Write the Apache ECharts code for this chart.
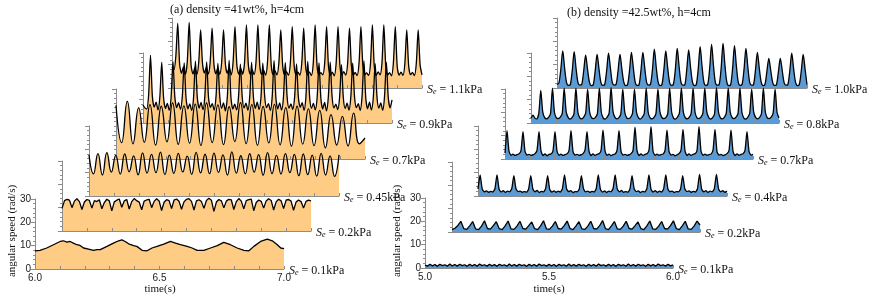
<!DOCTYPE html>
<html><head><meta charset="utf-8">
<script src="https://cdn.jsdelivr.net/npm/echarts@6/dist/echarts.min.js"></script>
<style>html,body{margin:0;padding:0;background:#fff}#c{width:872px;height:299px}</style>
</head><body><div id="c"></div>
<script>
// ---------- texts ----------
const titleA = '(a) density =41wt%, h=4cm';
const titleB = '(b) density =42.5wt%, h=4cm';
const yTitle = 'angular speed (rad/s)';
const xTitle = 'time(s)';
const stressA = ['0.1', '0.2', '0.45', '0.7', '0.9', '1.1'];
const stressB = ['0.1', '0.2', '0.4', '0.7', '0.8', '1.0'];
const xTickLabelsA = [6.0, 6.5, 7.0];
const xTickLabelsB = [5.0, 5.5, 6.0];
const yRange = [0, 30];
const tRangeA = [6.0, 7.0];
const tRangeB = [5.0, 6.0];

// ---------- data, panel (a) ----------
// Se=0.1kPa : [time, speed] pairs
const a1 = [[6.000,7.8],[6.020,8.0],[6.047,9.0],[6.074,10.4],[6.101,11.8],[6.114,12.1],[6.128,11.5],[6.141,11.8],[6.154,11.1],[6.168,10.4],[6.181,10.1],[6.195,9.0],[6.215,8.5],[6.235,8.0],[6.248,8.3],[6.262,8.3],[6.289,9.7],[6.315,11.1],[6.336,12.1],[6.349,12.5],[6.362,11.8],[6.376,10.8],[6.396,10.0],[6.409,9.7],[6.430,8.0],[6.450,7.8],[6.470,9.0],[6.490,9.7],[6.517,10.7],[6.544,11.8],[6.564,11.1],[6.584,10.4],[6.611,9.7],[6.631,9.0],[6.651,8.0],[6.678,8.0],[6.705,9.0],[6.732,10.0],[6.758,11.4],[6.785,10.4],[6.812,9.0],[6.839,8.0],[6.859,7.8],[6.879,9.7],[6.906,11.8],[6.933,12.8],[6.953,12.1],[6.973,10.4],[6.987,9.0],[7.000,8.7]];
// Se=0.2kPa : evenly sampled over 6.0 - 7.0 s
const a2 = [9.7,13.0,13.6,13.2,10.0,12.8,13.8,12.6,9.2,12.4,13.5,13.1,9.8,13.0,12.6,13.4,9.5,12.2,13.6,12.9,8.6,12.5,13.2,13.7,10.2,12.9,13.5,9.4,12.6,13.9,13.0,12.4,9.1,12.8,13.3,13.6,10.0,12.7,13.8,12.9,8.8,12.3,13.4,13.0,9.6,13.2,13.7,12.8,9.3,12.5,13.6,13.9,12.7,9.0,12.9,13.4,12.6,9.7,13.1,14.0,13.2,8.4,12.4,13.5,12.9,9.9,12.8,13.6,13.3,9.2,12.6,13.9,12.8,9.5,13.0,13.4,13.7,8.7,12.2,13.3,12.7,9.8,12.9,13.8,13.1,9.0,12.5,13.6,12.9,9.6,13.2,13.5,12.8,8.9,12.4,13.3,12.6,9.9,12.7,13.2,12.9];
// Se=0.45kPa : peaks / troughs, evenly sampled
const a3 = [17.6,9.5,18.2,9.0,18.6,10.2,17.4,9.4,18.0,10.4,17.2,9.1,18.5,9.8,17.8,10.0,18.8,9.2,17.5,9.7,18.3,10.3,17.1,9.3,18.7,9.9,17.9,9.6,18.4,10.1,17.6,9.0,18.9,9.8,17.3,9.5,18.1,10.2,17.7,8.9,18.6,9.6,17.4,9.4,18.2,10.0,17.8,8.7,18.0,9.2,17.5,8.5,18.3,9.0,17.2,8.4,17.6];
// Se=0.7kPa
const a4 = [23.0,7.0,24.7,6.5,21.9,7.2,23.3,6.0,22.6,7.4,24.0,6.3,22.8,6.8,23.5,5.8,24.0,7.0,23.2,6.2,22.4,7.5,24.1,6.6,23.3,5.9,22.5,6.9,23.4,6.1,22.0,5.5,22.6,6.4,21.5,5.7,20.8,4.8,19.0,6.0,18.3,5.6,19.7,6.5,9.0];
// Se=0.9kPa
const a5 = [7.7,6.5,6.0,12.0,
29.0,11.5,6.8,8.9,5.6,11.2, 26.0,10.8,6.2,8.4,5.4,10.9, 26.3,11.2,6.6,8.7,5.8,11.4, 25.8,10.6,6.1,8.2,5.3,10.8,
26.5,11.0,6.4,8.8,5.7,11.1, 26.2,10.9,6.7,8.3,5.5,11.3, 25.5,11.3,6.3,8.6,5.2,10.7, 26.8,10.7,6.0,8.1,5.6,11.0,
25.2,11.1,6.5,8.5,5.4,11.2, 26.0,10.8,6.2,8.9,5.7,10.9, 25.6,11.4,6.6,8.3,5.3,11.1, 26.7,10.6,6.1,8.6,5.5,10.8,
25.9,11.0,6.4,8.2,5.8,11.3, 25.3,10.9,6.7,8.7,5.4,11.0, 26.4,11.2,6.3,8.4,5.6,10.7, 25.8,10.7,6.0,8.8,5.2,11.2,
26.1,11.3,6.5,8.1,5.7,10.9, 25.0,10.8,6.2,8.5,5.5,11.1, 25.7,11.1,6.6,8.3,5.3,11.4, 26.6,10.6,6.1,8.9,5.6,10.8,
25.4,11.0,6.4,8.6,5.4,11.2, 26.0,11.0,6.5,9.9];
// Se=1.1kPa
const a6 = [9.1,7.8,13.5,
27.7,10.2,6.3,9.0,5.9,11.2, 28.1,9.8,6.0,8.7,5.7,10.9, 24.9,10.4,6.4,8.9,6.0,11.1, 25.6,9.9,6.1,8.5,5.8,10.8,
24.9,10.1,6.3,8.8,5.6,11.0, 26.3,9.7,6.0,8.4,5.9,10.7, 27.0,10.0,5.9,7.9,5.7,10.9, 27.0,9.6,5.8,7.6,5.5,10.6,
27.0,9.8,5.7,7.3,5.6,10.8, 24.9,9.5,5.6,7.0,5.4,10.5, 26.3,9.7,5.8,6.8,5.5,10.7, 25.6,9.4,5.5,6.9,5.3,10.4,
27.0,9.6,5.7,6.6,5.6,10.6, 26.3,9.3,5.4,6.8,5.2,10.5, 26.3,9.5,5.6,7.0,5.5,10.3, 25.6,9.4,5.5,6.7,5.3,10.6,
26.3,9.6,5.7,6.5,5.4,10.4, 27.0,9.3,5.4,6.9,5.6,10.5, 27.0,9.5,5.6,6.6,5.2,10.7, 26.3,9.4,5.5,6.8,5.4,10.3,
24.9,9.6,5.7,6.7,5.3,10.4, 24.9,10.0,5.6];

// ---------- data, panel (b) ----------
const b1 = [1.2,0.8,1.6,0.9,1.5,0.7,1.6,1.0,1.4,0.8,1.7,0.9,1.5,0.8,1.6,1.0,1.4,0.7,1.6,0.9,1.5,0.8,1.7,1.0,1.4,0.8,1.6,0.9,1.5,0.7,1.6,1.0,1.4,0.8,1.7,0.9,1.5,0.8,1.6,1.0,1.4,0.7,1.6,0.9,1.5,0.8,1.7,1.0,1.4,0.8,1.6,0.9,1.5,0.7,1.6,1.0,1.4,0.8,1.7,0.9,1.5,0.8,1.6,1.0,1.4,0.7,1.6,0.9,1.5,0.8,1.7,1.0,1.4,0.8,1.6,0.9,1.5,0.7,1.6,1.0,1.4,0.8,1.7,0.9,1.5,0.8,1.6,1.0,1.4,0.7,1.6,0.9,1.5,0.8,1.7,1.0,1.4,0.8,1.6,0.9,1.3];
const b2 = [1.0,1.6,2.8,
4.6,1.4,1.1,2.6, 4.5,1.3,1.0,2.5, 4.8,1.5,1.2,2.7, 4.4,1.4,1.0,2.6, 4.7,1.3,1.1,2.5,
4.6,1.5,1.2,2.7, 4.3,1.4,1.0,2.6, 4.8,1.3,1.1,2.5, 4.5,1.5,1.2,2.7, 4.7,1.4,1.0,2.6,
4.4,1.3,1.1,2.5, 4.6,1.5,1.2,2.7, 4.9,1.4,1.0,2.6, 4.5,1.3,1.1,2.5, 4.6,1.5,1.2,2.7,
4.3,1.4,1.0,2.6, 4.7,1.3,1.1,2.5, 4.5,1.5,1.2,2.7, 4.8,1.4,1.0,2.6, 4.6,1.3,1.1,2.5,
4.7,3.0];
const b3 = [3.0,
9.0,3.0,1.8,2.2,1.6,2.0,1.7,3.1, 9.0,2.9,1.7,2.3,1.5,2.1,1.8,3.2, 8.7,3.1,1.9,2.1,1.6,1.9,1.7,3.0,
8.7,3.0,1.8,2.4,1.5,2.0,1.8,3.1, 8.7,2.8,1.7,2.2,1.6,2.1,1.7,3.2, 9.0,3.0,1.9,2.3,1.5,1.9,1.8,3.0,
8.7,3.1,1.8,2.1,1.6,2.0,1.7,3.1, 9.0,2.9,1.7,2.2,1.5,2.1,1.8,3.2, 9.0,3.0,1.8,2.4,1.6,1.9,1.7,3.0,
8.7,3.1,1.9,2.2,1.5,2.0,1.8,3.1, 9.0,2.8,1.7,2.3,1.6,2.1,1.7,3.2, 9.0,3.0,1.8,2.1,1.5,1.9,1.8,3.0,
8.7,3.1,1.9,2.2,1.6,2.0,1.7,3.1, 9.3,2.9,1.8,2.3,1.5,2.1,1.8,3.2,
9.3,3.0,1.8,2.3,1.6,2.1];
const b4 = [2.5,
12.1,3.4,1.6,2.1,1.5,1.9,2.2,3.6, 11.7,3.3,1.7,2.0,1.6,1.8,2.3,3.7, 11.7,3.5,1.5,2.2,1.4,2.0,2.1,3.5, 11.7,3.4,1.6,2.1,1.5,1.9,2.2,3.6,
12.1,3.2,1.7,2.0,1.6,1.8,2.3,3.8, 11.7,3.4,1.5,2.2,1.5,2.0,2.2,3.6, 12.4,3.5,1.6,2.1,1.4,1.9,2.1,3.7, 12.1,3.3,1.7,2.0,1.6,1.8,2.3,3.6,
13.6,3.6,1.5,2.2,1.5,2.0,2.2,3.8, 13.9,3.4,1.6,2.1,1.6,1.9,2.1,3.6, 12.4,3.3,1.7,2.0,1.4,1.8,2.3,3.7, 12.7,3.5,1.5,2.2,1.5,2.0,2.2,3.6,
13.9,3.4,1.6,2.1,1.6,1.9,2.1,3.8, 12.7,3.2,1.7,2.0,1.5,1.8,2.3,3.6, 12.4,3.4,1.5,2.2,1.6,2.0,2.2,3.7,
11.7,3.3,1.7,2.0];
const b5 = [2.0,3.4,2.1,1.8,4.2,
14.0,4.8,2.3,1.8,2.4,4.0, 14.9,4.6,2.2,1.9,2.5,4.1, 14.9,4.9,2.4,1.7,2.3,3.9, 14.9,4.7,2.2,1.8,2.5,4.2,
14.5,4.8,2.3,1.9,2.4,4.0, 14.9,4.6,2.1,1.7,2.5,4.1, 15.2,4.9,2.4,1.8,2.3,3.9, 14.5,4.7,2.2,1.9,2.4,4.2,
14.5,4.8,2.3,1.7,2.5,4.0, 14.9,4.6,2.2,1.8,2.4,4.1, 14.5,4.9,2.4,1.9,2.3,3.9, 14.9,4.7,2.1,1.7,2.5,4.2,
14.9,4.8,2.3,1.8,2.4,4.0, 14.9,4.6,2.2,1.9,2.5,4.1, 14.9,4.9,2.4,1.7,2.3,3.9, 15.2,4.7,2.2,1.8,2.4,4.2,
14.9,4.8,2.3,1.9,2.5,4.0, 14.9,4.6,2.1,1.7,2.4,4.1, 14.5,4.9,2.4,1.8,2.3,3.9, 14.9,4.7,2.2,1.9,2.5,4.2,
14.5,4.5,2.2];
const b6 = [1.5,2.2,8.0,
15.9,8.5,2.4,1.1,1.5,7.5, 15.6,8.3,2.3,1.2,1.6,7.4, 14.1,8.0,2.5,1.0,1.4,7.2, 14.4,8.2,2.4,1.1,1.5,7.3,
14.9,8.4,2.3,1.2,1.6,7.5, 14.4,8.1,2.5,1.0,1.5,7.4, 15.3,8.6,2.4,1.1,1.4,7.6, 15.3,8.5,2.3,1.2,1.6,7.7,
16.7,8.9,2.5,1.0,1.5,7.8, 15.9,8.6,2.4,1.1,1.6,7.9, 17.0,9.0,2.3,1.2,1.4,8.0, 16.3,8.8,2.5,1.0,1.5,8.1,
17.7,9.3,2.4,1.1,1.6,8.3, 18.7,9.6,2.3,1.2,1.5,8.4, 19.1,9.8,2.5,1.0,1.4,8.2, 18.1,9.4,2.4,1.1,1.6,8.0,
17.0,9.0,2.3,1.2,1.5,7.7, 15.3,8.4,2.5,1.0,1.6,7.2, 12.7,7.5,2.4,1.1,1.4,6.8, 12.7,7.6,2.3,1.2,1.5,7.4,
14.9,8.2,2.5,1.0,1.6,7.3, 14.4,8.0,1.4];

// ---------- layout (left, baseline, width) per sub-plot ----------
const plotHeight = 70;
const layoutA = [[35,269,249],[62,231,249],[89,196,250],[116,159,249],[143,123,249],[172,88,250]];
const layoutB = [[425,268,248],[452,232,248],[478,196,249],[505,159,248],[531,123,248],[557,88,250]];
const smoothA = [false, false, 0.5, 0.5, 0.25, 0.25];
const smoothB = [false, false, 0.2, 0.2, 0.25, 0.3];

function sampled(range, vals) {
  const n = vals.length;
  return vals.map((v, i) => [range[0] + (range[1] - range[0]) * i / (n - 1), v]);
}

const panels = [
  { title: titleA, stress: stressA, layout: layoutA, range: tRangeA, ticks: xTickLabelsA,
    data: [a1, sampled(tRangeA, a2), sampled(tRangeA, a3), sampled(tRangeA, a4), sampled(tRangeA, a5), sampled(tRangeA, a6)],
    fill: '#FFCC85', smooth: smoothA },
  { title: titleB, stress: stressB, layout: layoutB, range: tRangeB, ticks: xTickLabelsB,
    data: [sampled(tRangeB, b1), sampled(tRangeB, b2), sampled(tRangeB, b3), sampled(tRangeB, b4), sampled(tRangeB, b5), sampled(tRangeB, b6)],
    fill: '#5A9BD5', smooth: smoothB }
];

const axisColor = '#8c8c8c';
const grids = [], xAxes = [], yAxes = [], areaSeries = [], lineSeries = [], graphics = [];
const serif = 'Liberation Serif';
let idx = 0;
panels.forEach((p, pi) => {
  p.layout.forEach((L, k) => {
    const first = k === 0;
    grids.push({ left: L[0], top: L[1] - plotHeight, width: L[2], height: plotHeight, containLabel: false });
    xAxes.push({
      gridIndex: idx, type: 'value', min: p.range[0], max: p.range[1], interval: 0.1, z: 2,
      axisLine: { show: true, lineStyle: { color: axisColor, width: 1 } },
      axisTick: { show: true, inside: true, length: 3, lineStyle: { color: axisColor } },
      splitLine: { show: false },
      axisLabel: { show: first, margin: 4, color: '#222', fontFamily: 'Liberation Sans', fontSize: 10,
        showMinLabel: true, showMaxLabel: true,
        formatter: v => p.ticks.some(t => Math.abs(t - v) < 1e-6) ? v.toFixed(1) : '' }
    });
    yAxes.push({
      gridIndex: idx, type: 'value', min: yRange[0], max: yRange[1], interval: 10, z: 2,
      axisLine: { show: true, lineStyle: { color: axisColor, width: 1 } },
      axisTick: { show: true, length: 4, lineStyle: { color: axisColor } },
      minorTick: { show: true, splitNumber: 5, length: 2, lineStyle: { color: axisColor } },
      splitLine: { show: false },
      axisLabel: { show: first, margin: 4, color: '#222', fontFamily: 'Liberation Sans', fontSize: 10 }
    });
    const d = p.data[k];
    areaSeries.push({ type: 'line', xAxisIndex: idx, yAxisIndex: idx, data: d, showSymbol: false, symbol: 'none',
      smooth: p.smooth[k], z: 1, silent: true, lineStyle: { width: 0, opacity: 0 },
      areaStyle: { color: p.fill, opacity: 1 } });
    lineSeries.push({ type: 'line', xAxisIndex: idx, yAxisIndex: idx, data: d, showSymbol: false, symbol: 'none',
      smooth: p.smooth[k], z: 3, silent: true, lineStyle: { color: '#000', width: 1.3 } });
    graphics.push({ type: 'text', x: L[0] + L[2] + 5, y: L[1] + 1, z: 10,
      style: { text: '{s|S}{e|e}{t| = ' + p.stress[k] + 'kPa}', verticalAlign: 'middle', align: 'left',
        rich: {
          s: { fontFamily: serif, fontStyle: 'italic', fontSize: 12, lineHeight: 14, fill: '#111', verticalAlign: 'bottom' },
          e: { fontFamily: serif, fontStyle: 'italic', fontSize: 8, lineHeight: 14, fill: '#111', verticalAlign: 'bottom' },
          t: { fontFamily: serif, fontSize: 12, lineHeight: 14, fill: '#111', verticalAlign: 'bottom' }
        } } });
    idx++;
  });
});

graphics.push(
  { type: 'text', x: 237, y: 10, style: { text: titleA, font: '12px "Liberation Serif"', fill: '#111', align: 'center', verticalAlign: 'middle' } },
  { type: 'text', x: 639, y: 13, style: { text: titleB, font: '12px "Liberation Serif"', fill: '#111', align: 'center', verticalAlign: 'middle' } },
  { type: 'text', x: 12, y: 231, rotation: Math.PI / 2, style: { text: yTitle, font: '11px "Liberation Serif"', fill: '#111', align: 'center', verticalAlign: 'middle' } },
  { type: 'text', x: 397, y: 231, rotation: Math.PI / 2, style: { text: yTitle, font: '11px "Liberation Serif"', fill: '#111', align: 'center', verticalAlign: 'middle' } },
  { type: 'text', x: 160, y: 289, style: { text: xTitle, font: '11px "Liberation Serif"', fill: '#111', align: 'center', verticalAlign: 'middle' } },
  { type: 'text', x: 549, y: 289, style: { text: xTitle, font: '11px "Liberation Serif"', fill: '#111', align: 'center', verticalAlign: 'middle' } }
);

const chart = echarts.init(document.getElementById('c'), null, { renderer: 'canvas' });
chart.setOption({
  animation: false,
  backgroundColor: '#fff',
  grid: grids, xAxis: xAxes, yAxis: yAxes,
  series: areaSeries.concat(lineSeries),
  graphic: graphics
});
</script></body></html>
